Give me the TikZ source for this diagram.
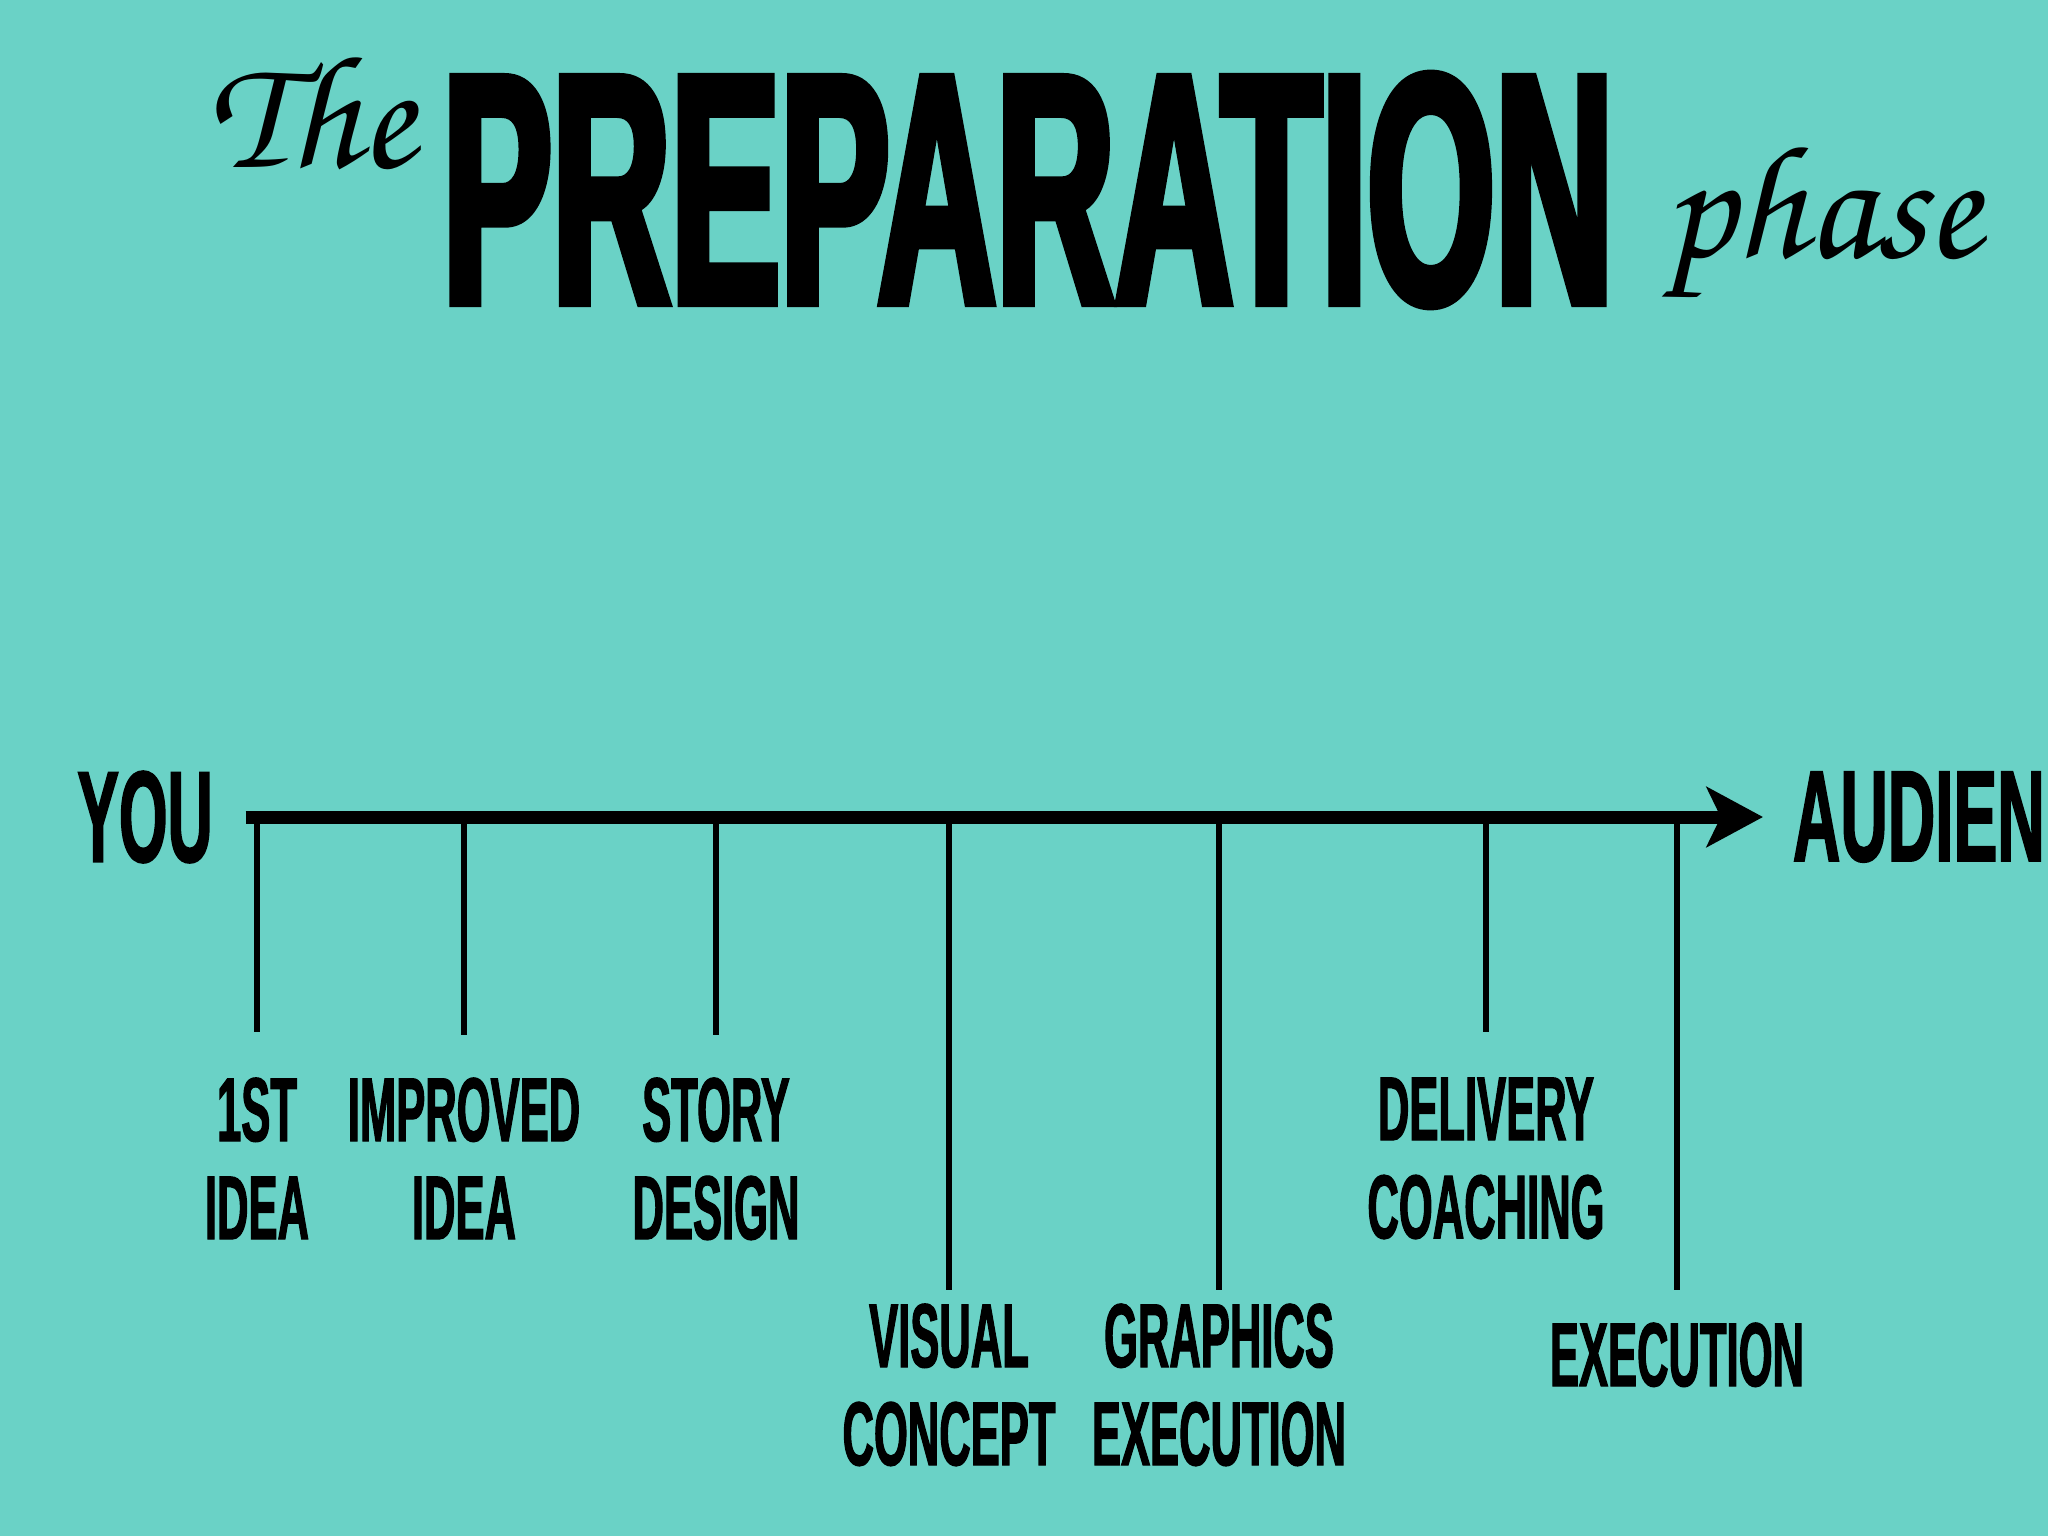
\documentclass[tikz,border=0pt]{standalone}
\usepackage{fontspec}
\usepackage{tikz}
\usetikzlibrary{positioning,arrows.meta}
\setmainfont{Liberation Sans}
\newfontfamily\gothic[FakeStretch=0.48,FakeBold=1.2]{Liberation Sans}
\newfontfamily\gothicwide[FakeStretch=0.505,FakeBold=1.2]{Liberation Sans}
\newfontfamily\gothicheavy[FakeStretch=0.5,FakeBold=2.5]{Liberation Sans}
\newfontfamily\handfont{texgyrechorus-mediumitalic.otf}
\definecolor{tealbg}{RGB}{106,210,198}

\begin{document}
\begin{tikzpicture}[x=0.01cm,y=-0.01cm,
        word/.style={font=\gothic\bfseries\fontsize{25.8}{27.9}\selectfont, align=center, inner sep=0pt, anchor=north},
        endword/.style={font=\gothic\bfseries\fontsize{37}{40}\selectfont, inner sep=0pt},
        hand/.style={font=\handfont\fontsize{46}{46}\selectfont, inner sep=0pt, anchor=base west},
        tick/.style={line width=1.5pt},
        axis/.style={line width=3.7pt, -{Stealth[length=16pt,width=17pt,inset=4pt]}}]
    \useasboundingbox (0,0) rectangle (2048,1536);
    \clip (0,0) rectangle (2048,1536);
    \fill[tealbg] (0,0) rectangle (2048,1536);
    \node[font=\gothicheavy\bfseries\fontsize{93.4}{95}\selectfont, inner sep=0pt] (prep) at (1028,190) {PREPARATION};
    \node[hand] (the) at (207,167) {The};
    \node[hand] (phase) at (1663,257) {phase};
    \node[endword, outer sep=9.4pt] (you) at (145,817) {YOU};
    \node[endword, font=\gothicwide\bfseries\fontsize{37}{40}\selectfont, outer sep=8.5pt, anchor=west] (aud) at (1763,817) {AUDIEN};
    \foreach \i/\x/\y/\ty/\txt in {1/257/1032/1077/{1ST\\IDEA}, 2/464/1035/1077/{IMPROVED\\IDEA},
            3/716/1035/1077/{STORY\\DESIGN}, 4/949/1290/1303/{VISUAL\\CONCEPT},
            5/1219/1290/1303/{GRAPHICS\\EXECUTION}, 6/1486/1032/1077/{DELIVERY\\COACHING},
            7/1677/1290/1322/{EXECUTION}}{
        \coordinate (t\i) at (\x,817);
        \coordinate (e\i) at (\x,\y);
        \draw[tick] (t\i) -- (e\i);
        \node[word] (l\i) at (\x,\ty) {\txt};
    }
    \draw[axis] (you) -- (aud);
\end{tikzpicture}
\end{document}
